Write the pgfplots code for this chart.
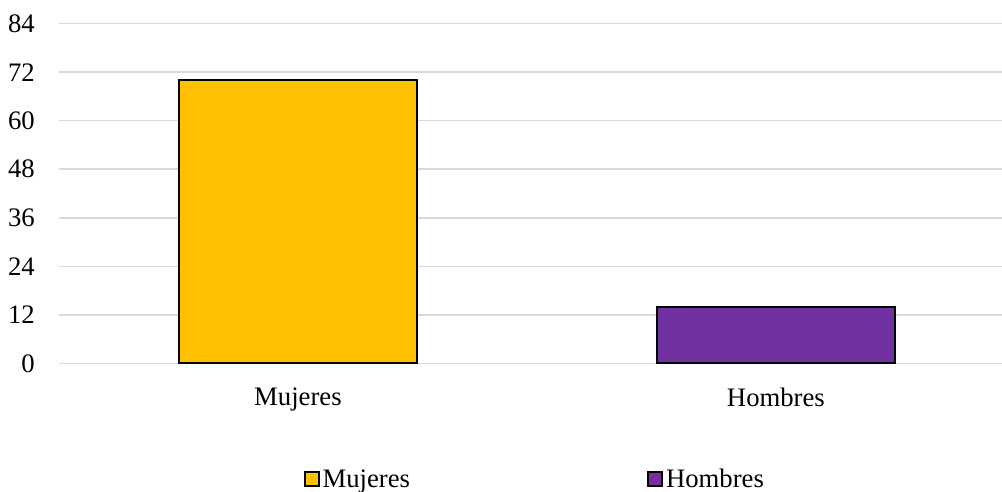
\documentclass[border=0pt]{standalone}
\usepackage{pgfplots}
\pgfplotsset{compat=1.18}
\usepackage{fontspec}
\setmainfont{Liberation Serif}
\definecolor{myyellow}{HTML}{FFC000}
\definecolor{mypurple}{HTML}{7030A0}
\definecolor{mygrid}{HTML}{D9D9D9}
\begin{document}
\begin{tikzpicture}
\useasboundingbox (0,0) rectangle (1002pt,492pt);
\begin{axis}[
  at={(59pt,128.7pt)}, anchor=south west,
  scale only axis,
  width=943pt, height=339.6pt,
  xmin=-0.5, xmax=1.473,
  ymin=0, ymax=84,
  ytick={0,12,...,84},
  xtick={0,1},
  xticklabels={Mujeres,Hombres},
  axis line style={draw=none},
  major tick length=0pt,
  ymajorgrids,
  grid style={mygrid, line width=1.5pt},
  ybar, bar width=238pt, bar shift=0pt,
  /pgf/number format/assume math mode=true,
  tick label style={font=\fontsize{26.7}{32}\selectfont},
  yticklabel style={anchor=east, inner sep=0pt, xshift=-24pt},
  xticklabel style={anchor=north, inner sep=0pt, yshift=-24pt},
  legend columns=2,
  legend style={draw=none, font=\fontsize{26.7}{32}\selectfont,
    at={(0.505,-0.341)}, anchor=center,
    nodes={inner sep=0pt, inner xsep=3pt},
    /tikz/every even column/.append style={column sep=234pt}},
  legend image code/.code={\draw[#1,draw=black,line width=2pt] (0pt,-7pt) rectangle (14pt,7pt);},
]
\addplot[fill=myyellow, draw=black, line width=2pt] coordinates {(0,70)};
\addplot[fill=mypurple, draw=black, line width=2pt] coordinates {(1,14)};
\legend{Mujeres,Hombres}
\end{axis}
\end{tikzpicture}
\end{document}
